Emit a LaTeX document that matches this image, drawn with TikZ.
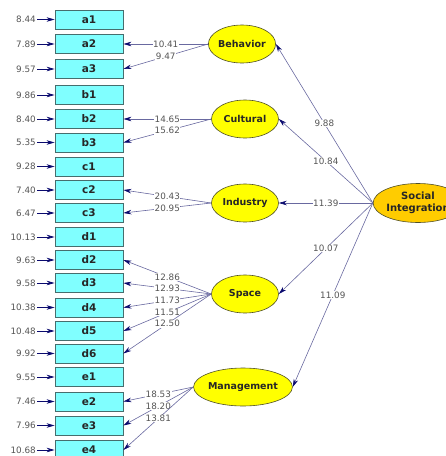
\documentclass[tikz,border=0pt]{standalone}
\usepackage{fontspec}
\setmainfont{DejaVu Sans}
\usepackage{xcolor}
\usepackage{tikz}
\usetikzlibrary{arrows.meta, shapes.geometric}

\definecolor{boxfill}{RGB}{128,255,255}
\definecolor{boxline}{RGB}{70,110,110}
\definecolor{latfill}{RGB}{255,255,0}
\definecolor{sifill}{RGB}{255,204,0}
\definecolor{latline}{RGB}{80,80,40}
\definecolor{pathc}{RGB}{105,105,160}
\definecolor{headc}{RGB}{10,10,110}
\definecolor{numc}{RGB}{85,85,85}

\begin{document}
\begin{tikzpicture}[x=1pt, y=-1pt]
      \useasboundingbox (0,0) rectangle (446,456);
      \tikzstyle{Obs} = [draw=boxline, fill=boxfill, line width=0.8pt, minimum width=68, minimum height=19, inner sep=0pt, font=\bfseries\fontsize{10.5}{12}\selectfont, text=black!85]
      \tikzstyle{Lat} = [ellipse, draw=latline, fill=latfill, line width=0.6pt, minimum width=67, minimum height=38, inner sep=0pt, font=\bfseries\fontsize{9.5}{11}\selectfont, text=black!85]
      \tikzstyle{Err} = [anchor=east, inner sep=1pt, text=numc, font=\fontsize{8.8}{10}\selectfont]
      \tikzstyle{Lab} = [fill=white, inner sep=0.6pt, text=numc, font=\fontsize{8.8}{10}\selectfont]
      \tikzstyle{Path} = [draw=pathc, line width=0.6pt, -{Stealth[length=8pt, width=4.5pt, inset=2.5pt, color=headc]}]
      \tikzstyle{ErrPath} = [draw=headc, line width=0.7pt, -{Stealth[length=8pt, width=4.5pt, inset=2.5pt, color=headc]}]
      % indicators
      \node[Obs] (a1) at (89,19.5) {a1};
      \node[Obs] (a2) at (89,44) {a2};
      \node[Obs] (a3) at (89,69) {a3};
      \node[Obs] (b1) at (89,95) {b1};
      \node[Obs] (b2) at (89,119) {b2};
      \node[Obs] (b3) at (89,142.5) {b3};
      \node[Obs] (c1) at (89,166.5) {c1};
      \node[Obs] (c2) at (89,190) {c2};
      \node[Obs] (c3) at (89,213) {c3};
      \node[Obs] (d1) at (89,237) {d1};
      \node[Obs] (d2) at (89,260) {d2};
      \node[Obs] (d3) at (89,283) {d3};
      \node[Obs] (d4) at (89,307.5) {d4};
      \node[Obs] (d5) at (89,331) {d5};
      \node[Obs] (d6) at (89,353.5) {d6};
      \node[Obs] (e1) at (89,377) {e1};
      \node[Obs] (e2) at (89,401.5) {e2};
      \node[Obs] (e3) at (89,425.5) {e3};
      \node[Obs] (e4) at (89,450) {e4};
      % error variances
      \node[Err] (va1) at (37,19.5) {8.44};
      \node[Err] (va2) at (37,44) {7.89};
      \node[Err] (va3) at (37,69) {9.57};
      \node[Err] (vb1) at (37,95) {9.86};
      \node[Err] (vb2) at (37,119) {8.40};
      \node[Err] (vb3) at (37,142.5) {5.35};
      \node[Err] (vc1) at (37,166.5) {9.28};
      \node[Err] (vc2) at (37,190) {7.40};
      \node[Err] (vc3) at (37,213) {6.47};
      \node[Err] (vd1) at (37,237) {10.13};
      \node[Err] (vd2) at (37,260) {9.63};
      \node[Err] (vd3) at (37,283) {9.58};
      \node[Err] (vd4) at (37,307.5) {10.38};
      \node[Err] (vd5) at (37,331) {10.48};
      \node[Err] (vd6) at (37,353.5) {9.92};
      \node[Err] (ve1) at (37,377) {9.55};
      \node[Err] (ve2) at (37,401.5) {7.46};
      \node[Err] (ve3) at (37,425.5) {7.96};
      \node[Err] (ve4) at (37,450) {10.68};
      \foreach \v in {a1,a2,a3,b1,b2,b3,c1,c2,c3,d1,d2,d3,d4,d5,d6,e1,e2,e3,e4}
        \draw[ErrPath] (v\v.east) -- (\v.west);
      % latent variables
      \node[Lat] (Behavior) at (242,44) {Behavior};
      \node[Lat] (Cultural) at (245,119) {Cultural};
      \node[Lat] (Industry) at (245,203) {Industry};
      \node[Lat] (Space) at (245,294) {Space};
      \node[Lat] (Management) at (243,387) {Management};
      \node[Lat, fill=sifill, minimum width=66, minimum height=39, align=center, font=\bfseries\fontsize{10}{11.5}\selectfont] (Social) at (418,203) {Social\\Integration};
      % loadings
      \draw[Path] (Behavior.west) -- node[Lab] {10.41} (a2.east);
      \draw[Path] (Behavior.west) -- node[Lab] {9.47} (a3.east);
      \draw[Path] (Cultural.west) -- node[Lab] {14.65} (b2.east);
      \draw[Path] (Cultural.west) -- node[Lab] {15.62} (b3.east);
      \draw[Path] (Industry.west) -- node[Lab] {20.43} (c2.east);
      \draw[Path] (Industry.west) -- node[Lab] {20.95} (c3.east);
      \draw[Path] (Space.west) -- node[Lab] {12.86} (d2.east);
      \draw[Path] (Space.west) -- node[Lab] {12.93} (d3.east);
      \draw[Path] (Space.west) -- node[Lab] {11.73} (d4.east);
      \draw[Path] (Space.west) -- node[Lab] {11.51} (d5.east);
      \draw[Path] (Space.west) -- node[Lab] {12.50} (d6.east);
      \draw[Path] (Management.west) -- node[Lab] {18.53} (e2.east);
      \draw[Path] (Management.west) -- node[Lab] {18.20} (e3.east);
      \draw[Path] (Management.west) -- node[Lab] {13.81} (e4.east);
      % structural paths
      \draw[Path] (Social.west) -- node[Lab] {9.88} (Behavior.east);
      \draw[Path] (Social.west) -- node[Lab] {10.84} (Cultural.east);
      \draw[Path] (Social.west) -- node[Lab] {11.39} (Industry.east);
      \draw[Path] (Social.west) -- node[Lab] {10.07} (Space.east);
      \draw[Path] (Social.west) -- node[Lab] {11.09} (Management.east);
\end{tikzpicture}
\end{document}
